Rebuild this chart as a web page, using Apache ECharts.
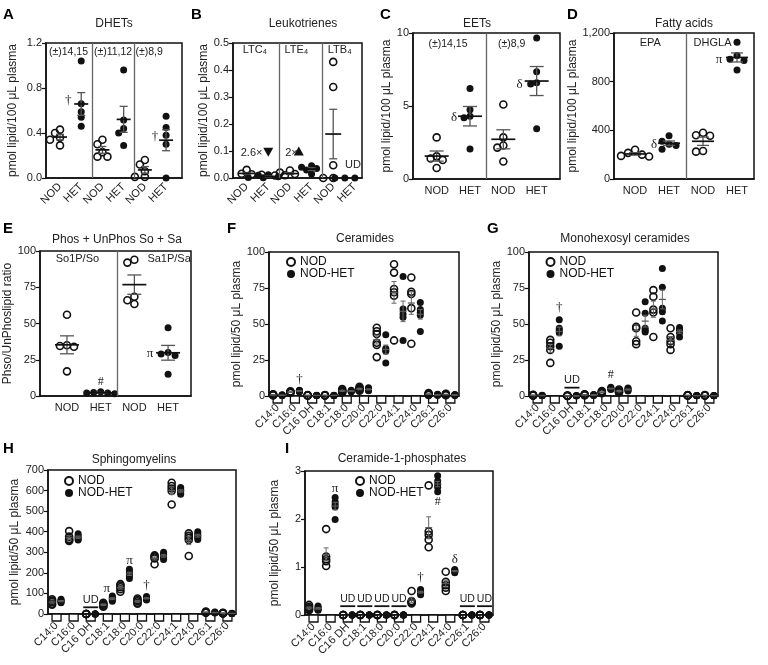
<!DOCTYPE html>
<html><head><meta charset="utf-8">
<script src="https://cdn.jsdelivr.net/npm/echarts@6/dist/echarts.min.js"></script>
<style>html,body{margin:0;padding:0;background:#fff}#c{width:768px;height:665px}</style>
</head><body><div id="c"></div>
<script>
// ================= DATA =================
const pairLabels4 = ['NOD','HET','NOD','HET'];
const pairLabels6 = ['NOD','HET','NOD','HET','NOD','HET'];

// A: DHETs (pmol/100 µL) groups: (±)14,15 NOD/HET, (±)11,12 NOD/HET, (±)8,9 NOD/HET
const dhetValues = [
  [0.43,0.40,0.36,0.34,0.29],
  [1.04,0.66,0.59,0.54,0.46],
  [0.30,0.34,0.23,0.19,0.19],
  [0.96,0.515,0.44,0.40,0.29],
  [0.16,0.12,0.06,0.01,0.01],
  [0.55,0.45,0.38,0.30,0.0]
];
// B: Leukotrienes LTC4, LTE4, LTB4
const leukoValues = [
  [0.030,0.016,0.014,0.013,0.012],
  [0.012,0.010,0.005,0.002,0.001],
  [0.028,0.020,0.015,0.010,0.009],
  [0.045,0.040,0.035,0.030,0.015],
  [0.43,0.337,0.047,0.0,0.0],
  [0,0,0,0,0]
];
// C: EETs (±)14,15 and (±)8,9
const eetValues = [
  [2.85,1.55,1.4,1.3,0.75],
  [6.2,4.75,4.3,4.2,2.05],
  [5.1,2.85,2.3,2.15,1.2],
  [9.65,7.35,6.6,6.5,3.45]
];
// D: Fatty acids EPA, DHGLA
const fattyValues = [
  [240,215,200,190,185],
  [355,310,285,275,245],
  [380,360,355,225,230],
  [1125,1015,985,975,895]
];
// E: So1P/So and Sa1P/Sa ratios
const phosValues = [
  [56,35,34.5,34,17],
  [3,2.5,2,2,1.5],
  [92,94,68.5,63.5,66],
  [47,30,29,28,15]
];

const lipidCategories = ['C14:0','C16:0','C16 DH','C18:1','C18:0','C20:0','C22:0','C24:1','C24:0','C26:1','C26:0'];

const ceramideNOD = [
  [1.2,1.0,0.8,0.6,0.5],[3.2,3.0,2.8,2.5,2.2],[0.6,0.5,0.4,0.4,0.3],[0.6,0.5,0.5,0.4,0.3],
  [4.8,4.0,3.5,3.0,2.5],[6.4,5.5,4.8,4.2,3.7],[47.4,45,43,37,35.5,27],[91.5,85.7,74.3,72,69.7,38.6],
  [82.3,72.4,70.8,61,36.3],[2.0,1.5,1.2,1.0,0.8],[1.6,1.3,1.0,0.8,0.6]
];
const ceramideHET = [
  [0.8,0.6,0.5,0.4,0.3],[4.0,3.8,3.5,3.2,3.0],[0.5,0.4,0.4,0.3,0.3],[0.5,0.4,0.4,0.3,0.3],
  [4.0,3.5,3.5,3.2,3.0],[5.7,5.0,4.5,4.0,3.7],[42.5,33,32,31,23],[83,60.5,57,54.7,38.6],
  [65,60,58,56,44.8],[1.2,1.0,0.8,0.6,0.5],[1.0,0.8,0.6,0.5,0.4]
];
const monohexNOD = [
  [0.8,0.6,0.5,0.4,0.3],[39,37,34.5,32,23],[0.3,0.2,0.2,0.1,0.1],[1.2,1.0,0.8,0.6,0.5],
  [3.5,3.0,2.5,2.2,2.0],[4.5,3.8,3.2,2.8,2.4],[58,48,47,38,36],[73.5,69,60,58,41],
  [47,41,38,36,32],[0.6,0.5,0.4,0.3,0.3],[0.6,0.5,0.4,0.3,0.3]
];
const monohexHET = [
  [0.5,0.4,0.3,0.3,0.2],[53,47,45.5,44,34.5],[0.2,0.1,0.1,0.1,0.1],[1.0,0.8,0.6,0.5,0.4],
  [6.0,5.5,5.0,4.8,4.5],[5.5,5.0,4.5,4.0,3.5],[65.5,57.5,47,45.5,44.5],[88.5,75.5,61,58.5,52],
  [47.5,46,45,44,41],[0.4,0.3,0.3,0.2,0.2],[0.4,0.3,0.3,0.2,0.2]
];
const sphingoNOD = [
  [72,65,58,50,45],[403,376,365,360,355],[0,0,0,0,0],[55,50,45,40,35],
  [145,138,130,120,108],[75,68,62,55,50],[285,280,275,270,242],[638,622,610,598,532],
  [392,380,370,360,282],[12,10,8,7,6],[6,5,4,3,3]
];
const sphingoHET = [
  [72,66,62,58,55],[390,380,372,365,360],[0,0,0,0,0],[88,80,75,68,62],
  [218,205,195,185,172],[85,80,76,72,68],[300,290,282,275,265],[615,605,598,590,582],
  [400,390,380,372,362],[10,8,7,6,5],[4,3,3,2,2]
];
const c1pNOD = [
  [0.21,0.17,0.14,0.12,0.10],[1.79,1.22,1.16,1.12,1.02],[0,0,0,0,0],[0,0,0,0,0],
  [0,0,0,0,0],[0,0,0,0,0],[0.50,0.29,0.27,0.26,0.24],[2.70,1.74,1.67,1.57,1.41],
  [0.90,0.69,0.62,0.57,0.50],[0,0,0,0,0],[0,0,0,0,0]
];
const c1pHET = [
  [0.19,0.16,0.13,0.11,0.10],[2.45,2.36,2.30,2.25,1.99],[0,0,0,0,0],[0,0,0,0,0],
  [0,0,0,0,0],[0,0,0,0,0],[0.53,0.50,0.48,0.45,0.42],[2.90,2.79,2.72,2.66,2.57],
  [0.95,0.93,0.91,0.90,0.88],[0,0,0,0,0],[0,0,0,0,0]
];

// ================= BUILD =================
const FONT = '"Liberation Sans", Arial, Helvetica, sans-serif';
const SERIF = '"Liberation Serif", "DejaVu Serif", serif';
const INK = '#111';
function mean(a){return a.reduce((s,v)=>s+v,0)/a.length;}
function sem(a){const m=mean(a);const v=a.reduce((s,x)=>s+(x-m)*(x-m),0)/(a.length-1);return Math.sqrt(v/a.length);}

const option = {animation:false, textStyle:{fontFamily:FONT}, grid:[], xAxis:[], yAxis:[], series:[], legend:[], graphic:[]};

function addGrid(b){
  option.grid.push({left:b.l, top:b.t, width:b.w, height:b.h, show:true, borderColor:INK, borderWidth:1.5, backgroundColor:'transparent'});
  return option.grid.length-1;
}
function yAxisCfg(gi,p){
  return {gridIndex:gi, type:'value', min:p.ymin, max:p.ymax, interval:p.yint,
    name:p.yname, nameLocation:'middle', nameGap:p.ngap,
    nameTextStyle:{fontSize:12, color:'#222', fontFamily:FONT},
    axisLine:{show:true, onZero:false, lineStyle:{color:INK, width:1.5}},
    axisTick:{show:true, length:4, lineStyle:{color:INK, width:1.2}},
    axisLabel:{fontSize:11, color:'#222', margin:4, fontFamily:FONT, formatter:p.yfmt},
    splitLine:{show:false}};
}
function txt(style){
  const s = Object.assign({fill:'#222', fontFamily:FONT}, style);
  s.textAlign = s.align; s.textVerticalAlign = s.verticalAlign;
  return s;
}
function annotSeries(xi, yi, list){
  option.series.push({type:'custom', xAxisIndex:xi, yAxisIndex:yi, z:6, silent:true, clip:false,
    data:list.map((a,i)=>[a.x,a.y,i]),
    renderItem:(params,api)=>{
      const a=list[api.value(2)];
      const c=api.coord([api.value(0),api.value(1)]);
      const x=c[0]+(a.dx||0), y=c[1];
      const ch=[{type:'text', x:x, y:y, style:txt({text:a.t, fontSize:a.fs||10.5, fontFamily:a.serif?SERIF:FONT, align:a.al||'center', verticalAlign:'middle'})}];
      if(a.ul) ch.push({type:'line', shape:{x1:x-7.5,y1:y+7.5,x2:x+7.5,y2:y+7.5}, style:{stroke:INK, lineWidth:1.8}});
      return {type:'group', children:ch};
    }});
}

function groupPanel(p){
  const gi = addGrid(p.box);
  const xi = option.xAxis.length, yi = option.yAxis.length;
  option.xAxis.push({gridIndex:gi, type:'value', min:p.xmin, max:p.xmax,
    axisLine:{show:true, onZero:false, lineStyle:{color:INK, width:1.5}}, axisTick:{show:false}, splitLine:{show:false},
    axisLabel:{customValues:p.labels.map((_,i)=>i), formatter:(v)=>p.labels[Math.round(v)]||'', rotate:p.rotate||0,
      fontSize:11, color:'#222', margin:p.rotate?7:6, fontFamily:FONT}});
  option.yAxis.push(yAxisCfg(gi,p));
  const pxX = p.box.w/(p.xmax-p.xmin), pxY = p.box.h/(p.ymax-p.ymin);
  const nod=[], het=[], stats=[];
  p.values.forEach((vals,g)=>{
    const placed=[];
    vals.slice().sort((a,b)=>b-a).forEach(v=>{
      let off=0;
      for(const k of [0,-1,1,-2,2,-3,3,-4,4]){
        const dx=k*p.step;
        if(placed.every(q=>Math.hypot(q.dx-dx,(q.v-v)*pxY)>=p.mind)){off=dx;break;}
      }
      placed.push({dx:off,v:v});
      (g%2===0?nod:het).push([g+off/pxX, v]);
    });
    stats.push([g, mean(vals), sem(vals)]);
  });
  option.series.push({type:'scatter', xAxisIndex:xi, yAxisIndex:yi, data:nod, symbol:'circle', symbolSize:p.sym, z:3,
    itemStyle:{color:'rgba(255,255,255,0)', borderColor:INK, borderWidth:1.6, opacity:1},
    markLine:{silent:true, symbol:['none','none'], label:{show:false}, lineStyle:{color:'#666', width:1.3, type:'solid'},
      data:p.dividers.map(d=>({xAxis:d}))}});
  option.series.push({type:'scatter', xAxisIndex:xi, yAxisIndex:yi, data:het, symbol:'circle', symbolSize:p.sym, z:3,
    itemStyle:{color:INK, opacity:1}});
  option.series.push({type:'custom', xAxisIndex:xi, yAxisIndex:yi, z:4, silent:true, clip:false, data:stats,
    renderItem:(params,api)=>{
      const x=api.value(0), m=api.value(1), s=api.value(2);
      if(s<=0) return null;
      const c=api.coord([x,m]), hi=api.coord([x,m+s]), lo=api.coord([x,m-s]);
      const es={stroke:'#555', lineWidth:1.3};
      return {type:'group', children:[
        {type:'line', shape:{x1:c[0],y1:hi[1],x2:c[0],y2:lo[1]}, style:es},
        {type:'line', shape:{x1:c[0]-p.cap,y1:hi[1],x2:c[0]+p.cap,y2:hi[1]}, style:es},
        {type:'line', shape:{x1:c[0]-p.cap,y1:lo[1],x2:c[0]+p.cap,y2:lo[1]}, style:es},
        {type:'line', shape:{x1:c[0]-p.mw,y1:c[1],x2:c[0]+p.mw,y2:c[1]}, style:{stroke:INK, lineWidth:1.7}}
      ]};
    }});
  if(p.annots) annotSeries(xi, yi, p.annots);
  return {xi, yi};
}

function lipidPanel(p){
  const gi = addGrid(p.box);
  const xi = option.xAxis.length, yi = option.yAxis.length;
  option.xAxis.push({gridIndex:gi, type:'category', data:lipidCategories, boundaryGap:true,
    axisLine:{show:true, onZero:false, lineStyle:{color:INK, width:1.5}}, axisTick:{show:false}, splitLine:{show:false},
    axisLabel:{interval:0, rotate:45, fontSize:11, color:'#222', margin:10, fontFamily:FONT}});
  option.yAxis.push(yAxisCfg(gi,p));
  // open boxes hanging under the axis at each category
  option.series.push({type:'custom', xAxisIndex:xi, yAxisIndex:yi, z:2, silent:true, clip:false,
    data:lipidCategories.map((c,i)=>[i,0]),
    renderItem:(params,api)=>{
      const c=api.coord([api.value(0),0]);
      return {type:'rect', shape:{x:c[0]-4.5,y:c[1],width:9,height:7}, style:{fill:'#fff', stroke:INK, lineWidth:1.3}};
    }});
  const off=4.5;
  const pts = (arr)=>{const r=[]; arr.forEach((vals,i)=>vals.forEach(v=>r.push([i,v]))); return r;};
  option.series.push({name:'NOD', type:'scatter', xAxisIndex:xi, yAxisIndex:yi, data:pts(p.nod), symbol:'circle', symbolSize:7,
    symbolOffset:[-off,0], z:3, itemStyle:{color:'rgba(255,255,255,0)', borderColor:INK, borderWidth:1.6, opacity:1}});
  option.series.push({name:'NOD-HET', type:'scatter', xAxisIndex:xi, yAxisIndex:yi, data:pts(p.het), symbol:'circle', symbolSize:7,
    symbolOffset:[off,0], z:3, itemStyle:{color:INK, opacity:1}});
  [[p.nod,-off],[p.het,off]].forEach(([arr,dx])=>{
    option.series.push({type:'custom', xAxisIndex:xi, yAxisIndex:yi, z:4, silent:true, clip:false,
      data:arr.map((vals,i)=>[i,mean(vals),sem(vals)]),
      renderItem:(params,api)=>{
        const m=api.value(1), s=api.value(2);
        if(s<=0) return null;
        const c=api.coord([api.value(0),m]), hi=api.coord([api.value(0),m+s]), lo=api.coord([api.value(0),m-s]);
        const x=c[0]+dx, es={stroke:'#666', lineWidth:1};
        return {type:'group', children:[
          {type:'line', shape:{x1:x,y1:hi[1],x2:x,y2:lo[1]}, style:es},
          {type:'line', shape:{x1:x-2.5,y1:hi[1],x2:x+2.5,y2:hi[1]}, style:es},
          {type:'line', shape:{x1:x-2.5,y1:lo[1],x2:x+2.5,y2:lo[1]}, style:es},
          {type:'line', shape:{x1:x-3.5,y1:c[1],x2:x+3.5,y2:c[1]}, style:{stroke:'#555', lineWidth:1.2}}
        ]};
      }});
  });
  option.legend.push({left:p.leg[0], top:p.leg[1], orient:'vertical', itemWidth:8, itemHeight:8, itemGap:0, padding:0,
    selectedMode:false, data:['NOD','NOD-HET'], textStyle:{fontSize:12, color:INK, fontFamily:FONT, lineHeight:12}});
  if(p.annots) annotSeries(xi, yi, p.annots);
  return {xi, yi};
}

const f1 = v=>v.toFixed(1);
const fInt = v=>String(v);
const fComma = v=>v.toLocaleString('en-US');

// ---- A ----
groupPanel({box:{l:46,t:43,w:136,h:135}, xmin:-0.66, xmax:5.75, ymin:0, ymax:1.2, yint:0.4, yfmt:f1,
  yname:'pmol lipid/100 μL plasma', ngap:27, labels:pairLabels6, values:dhetValues, rotate:45,
  step:5, mind:5.5, sym:7, mw:7, cap:4, dividers:[1.5,3.5],
  annots:[{x:0.4,y:1.12,t:'(±)14,15'},{x:2.5,y:1.12,t:'(±)11,12'},{x:4.2,y:1.12,t:'(±)8,9'},
    {x:1,y:0.69,dx:-13,t:'†',serif:true,fs:13},{x:5,y:0.37,dx:-11,t:'†',serif:true,fs:13}]});
// ---- B ----
const bIdx = groupPanel({box:{l:233,t:43,w:129,h:135}, xmin:-0.63, xmax:5.33, ymin:0, ymax:0.5, yint:0.1, yfmt:f1,
  yname:'pmol lipid/100 μL plasma', ngap:22, labels:pairLabels6, values:leukoValues, rotate:45,
  step:5, mind:5.5, sym:7, mw:8, cap:4, dividers:[1.5,3.5],
  annots:[{x:0.38,y:0.474,t:'LTC₄',fs:11},{x:2.3,y:0.474,t:'LTE₄',fs:11},{x:4.3,y:0.474,t:'LTB₄',fs:11},
    {x:0.23,y:0.094,t:'2.6×',fs:11},{x:2.07,y:0.094,t:'2×',fs:11},{x:4.91,y:0.048,t:'UD',fs:11}]});
option.series.push({type:'scatter', xAxisIndex:bIdx.xi, yAxisIndex:bIdx.yi, data:[[1.0,0.095]], symbol:'triangle', symbolRotate:180, symbolSize:[10,9], itemStyle:{color:INK, opacity:1}, z:5, silent:true});
option.series.push({type:'scatter', xAxisIndex:bIdx.xi, yAxisIndex:bIdx.yi, data:[[2.41,0.1]], symbol:'triangle', symbolSize:[10,9], itemStyle:{color:INK, opacity:1}, z:5, silent:true});
// ---- C ----
groupPanel({box:{l:413,t:33,w:147,h:146}, xmin:-0.71, xmax:3.7, ymin:0, ymax:10, yint:5, yfmt:fInt,
  yname:'pmol lipid/100 μL plasma', ngap:17, labels:pairLabels4, values:eetValues,
  step:6, mind:6, sym:7, mw:12, cap:7, dividers:[1.5],
  annots:[{x:0.34,y:9.25,t:'(±)14,15'},{x:2.25,y:9.25,t:'(±)8,9'},
    {x:1,y:4.2,dx:-16,t:'δ',serif:true,fs:13},{x:3,y:6.45,dx:-17,t:'δ',serif:true,fs:13}]});
// ---- D ----
groupPanel({box:{l:614,t:33,w:140,h:146}, xmin:-0.62, xmax:3.5, ymin:0, ymax:1200, yint:400, yfmt:fComma,
  yname:'pmol lipid/100 μL plasma', ngap:29, labels:pairLabels4, values:fattyValues,
  step:7, mind:7, sym:7, mw:11, cap:6, dividers:[1.5],
  annots:[{x:0.45,y:1120,t:'EPA',fs:11},{x:2.28,y:1120,t:'DHGLA',fs:11},
    {x:1,y:280,dx:-15,t:'δ',serif:true,fs:13},{x:3,y:985,dx:-18,t:'π',serif:true,fs:13}]});
// ---- E ----
groupPanel({box:{l:40,t:251,w:151,h:145}, xmin:-0.8, xmax:3.68, ymin:0, ymax:100, yint:25, yfmt:fInt,
  yname:'Phso/UnPhoslipid ratio', ngap:21, labels:pairLabels4, values:phosValues,
  step:7, mind:7, sym:7, mw:12, cap:7, dividers:[1.5],
  annots:[{x:0.31,y:94.3,t:'So1P/So',fs:11},{x:3.03,y:94.3,t:'Sa1P/Sa',fs:11},
    {x:1,y:10,t:'#',serif:true,fs:12},{x:3,y:29.5,dx:-18,t:'π',serif:true,fs:13}]});
// ---- F ----
lipidPanel({box:{l:269,t:252,w:190,h:144}, ymin:0, ymax:100, yint:25, yfmt:fInt, yname:'pmol lipid/50 μL plasma', ngap:26,
  nod:ceramideNOD, het:ceramideHET, leg:[286,256],
  annots:[{x:1,y:11.6,dx:4.5,t:'†',serif:true,fs:13}]});
// ---- G ----
lipidPanel({box:{l:529,t:252,w:189,h:144}, ymin:0, ymax:100, yint:25, yfmt:fInt, yname:'pmol lipid/50 μL plasma', ngap:25,
  nod:monohexNOD, het:monohexHET, leg:[545.5,256],
  annots:[{x:1,y:61.6,dx:4.5,t:'†',serif:true,fs:13},{x:2,y:11,t:'UD',ul:true,fs:11},{x:4,y:14.6,dx:4.5,t:'#',serif:true,fs:12}]});
// ---- H ----
lipidPanel({box:{l:48,t:470,w:188,h:144}, ymin:0, ymax:700, yint:100, yfmt:fInt, yname:'pmol lipid/50 μL plasma', ngap:27,
  nod:sphingoNOD, het:sphingoHET, leg:[64,475],
  annots:[{x:2,y:69,t:'UD',ul:true,fs:11},{x:3,y:125,dx:-1,t:'π',serif:true,fs:13},{x:4,y:258,dx:4.5,t:'π',serif:true,fs:13},
    {x:5,y:138,dx:4.5,t:'†',serif:true,fs:13}]});
// ---- I ----
lipidPanel({box:{l:305,t:471,w:188,h:144}, ymin:0, ymax:3, yint:1, yfmt:fInt, yname:'pmol lipid/50 μL plasma', ngap:24,
  nod:c1pNOD, het:c1pHET, leg:[355,475],
  annots:[{x:1,y:2.63,dx:4.5,t:'π',serif:true,fs:13},
    {x:2,y:0.34,t:'UD',ul:true,fs:10.5},{x:3,y:0.34,t:'UD',ul:true,fs:10.5},{x:4,y:0.34,t:'UD',ul:true,fs:10.5},{x:5,y:0.34,t:'UD',ul:true,fs:10.5},
    {x:9,y:0.34,t:'UD',ul:true,fs:10.5},{x:10,y:0.34,t:'UD',ul:true,fs:10.5},
    {x:6,y:0.79,dx:4.5,t:'†',serif:true,fs:13},{x:7,y:2.35,dx:4.5,t:'#',serif:true,fs:12},{x:8,y:1.15,dx:4.5,t:'δ',serif:true,fs:13}]});

// ---- titles & panel letters ----
const titles = [['DHETs',114,24],['Leukotrienes',303,24],['EETs',477,24],['Fatty acids',684,24],
  ['Phos + UnPhos So + Sa',117,240],['Ceramides',365,239],['Monohexosyl ceramides',625,239],
  ['Sphingomyelins',134,460],['Ceramide-1-phosphates',402,459]];
titles.forEach(([t,x,y])=>option.graphic.push({type:'text', x:x, y:y, silent:true,
  style:txt({text:t, fontSize:12, fill:'#222', align:'center', verticalAlign:'middle'})}));
const letters = [['A',3,15],['B',191,15],['C',380,15],['D',567,15],['E',3,229],['F',227,229],['G',487,229],['H',3,449],['I',285,449]];
letters.forEach(([t,x,y])=>option.graphic.push({type:'text', x:x, y:y, silent:true,
  style:txt({text:t, fontSize:15, fontWeight:'bold', fill:'#000', align:'left', verticalAlign:'middle'})}));

const chart = echarts.init(document.getElementById('c'), null, {renderer:'canvas'});
chart.setOption(option);
</script>
</body></html>
